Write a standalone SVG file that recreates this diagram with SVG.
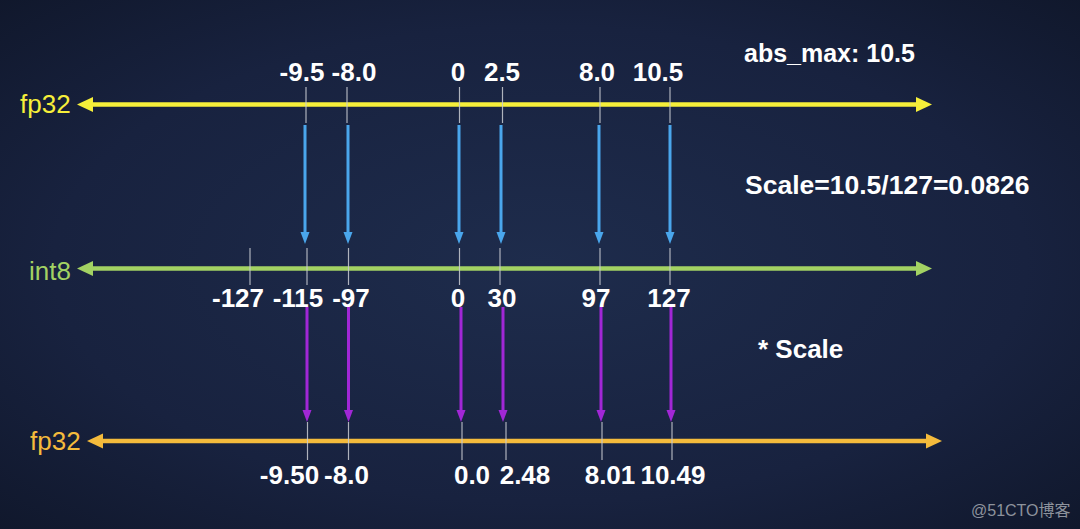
<svg xmlns="http://www.w3.org/2000/svg" width="1080" height="529" viewBox="0 0 1080 529">
<defs>
<radialGradient id="bg" cx="0.5" cy="0.5" r="0.75" fx="0.5" fy="0.5">
<stop offset="0" stop-color="#1e2c4c"/>
<stop offset="0.6" stop-color="#18223f"/>
<stop offset="1" stop-color="#0f1629"/>
</radialGradient>
<style>
.lbl{font-family:"Liberation Sans",Arial,sans-serif;font-size:26px}
.num{font-family:"Liberation Sans",Arial,sans-serif;font-size:26px;font-weight:bold;fill:#ffffff;text-anchor:middle}
.note{font-family:"Liberation Sans",Arial,sans-serif;font-weight:bold;fill:#ffffff}
.tick{stroke:#c9ccd2;stroke-width:1.2;opacity:0.85}
.blue{stroke:#4aa6ec;stroke-width:3}
.purple{stroke:#a127d6;stroke-width:3}
</style>
</defs>
<rect width="1080" height="529" fill="url(#bg)"/>

<g id="axis-fp32-top">
<line x1="88" y1="104.5" x2="920" y2="104.5" stroke="#f6ef3a" stroke-width="4.5"/>
<polygon points="77,104.5 93,97 93,112" fill="#f6ef3a"/>
<polygon points="932,104.5 916,97 916,112" fill="#f6ef3a"/>
<text class="lbl" x="20" y="113" fill="#f6ef3a">fp32</text>
</g>

<g id="axis-int8">
<line x1="88" y1="268.5" x2="920" y2="268.5" stroke="#a3d263" stroke-width="4.5"/>
<polygon points="77,268.5 93,261 93,276" fill="#a3d263"/>
<polygon points="932,268.5 916,261 916,276" fill="#a3d263"/>
<text class="lbl" x="29" y="280" fill="#a3d263">int8</text>
</g>

<g id="axis-fp32-bottom">
<line x1="98" y1="441" x2="930" y2="441" stroke="#f4bb3c" stroke-width="4.5"/>
<polygon points="87,441 103,433.5 103,448.5" fill="#f4bb3c"/>
<polygon points="942,441 926,433.5 926,448.5" fill="#f4bb3c"/>
<text class="lbl" x="30" y="450" fill="#f4bb3c">fp32</text>
</g>

<g id="ticks-top">
<line class="tick" x1="306" y1="87" x2="306" y2="123"/>
<line class="tick" x1="347" y1="87" x2="347" y2="123"/>
<line class="tick" x1="459.5" y1="87" x2="459.5" y2="123"/>
<line class="tick" x1="502.5" y1="87" x2="502.5" y2="123"/>
<line class="tick" x1="600" y1="87" x2="600" y2="123"/>
<line class="tick" x1="670" y1="87" x2="670" y2="123"/>
</g>

<g id="labels-top">
<text class="num" x="302" y="81">-9.5</text>
<text class="num" x="354" y="81">-8.0</text>
<text class="num" x="458" y="81">0</text>
<text class="num" x="502" y="81">2.5</text>
<text class="num" x="597" y="81">8.0</text>
<text class="num" x="658" y="81">10.5</text>
</g>

<g id="ticks-int8">
<line class="tick" x1="250" y1="248" x2="250" y2="285"/>
<line class="tick" x1="307" y1="248" x2="307" y2="285"/>
<line class="tick" x1="348.5" y1="248" x2="348.5" y2="285"/>
<line class="tick" x1="459.5" y1="248" x2="459.5" y2="285"/>
<line class="tick" x1="500" y1="248" x2="500" y2="285"/>
<line class="tick" x1="600" y1="248" x2="600" y2="285"/>
<line class="tick" x1="670" y1="248" x2="670" y2="285"/>
</g>

<g id="labels-int8">
<text class="num" x="238" y="307">-127</text>
<text class="num" x="298" y="307">-115</text>
<text class="num" x="351" y="307">-97</text>
<text class="num" x="458" y="307">0</text>
<text class="num" x="502" y="307">30</text>
<text class="num" x="596" y="307">97</text>
<text class="num" x="669" y="307">127</text>
</g>

<g id="ticks-bottom">
<line class="tick" x1="307.5" y1="422" x2="307.5" y2="460"/>
<line class="tick" x1="348.5" y1="422" x2="348.5" y2="460"/>
<line class="tick" x1="462" y1="422" x2="462" y2="460"/>
<line class="tick" x1="506" y1="422" x2="506" y2="460"/>
<line class="tick" x1="602" y1="422" x2="602" y2="460"/>
<line class="tick" x1="672" y1="422" x2="672" y2="460"/>
</g>

<g id="labels-bottom">
<text class="num" x="289.5" y="484">-9.50</text>
<text class="num" x="346.5" y="484">-8.0</text>
<text class="num" x="472" y="484">0.0</text>
<text class="num" x="525" y="484">2.48</text>
<text class="num" x="610" y="484">8.01</text>
<text class="num" x="673" y="484">10.49</text>
</g>

<g id="connectors">
<g id="quantize-arrows">
<line class="blue" x1="305" y1="125" x2="305" y2="233"/><polygon points="300.5,232 309.5,232 305,244" fill="#4aa6ec"/>
<line class="blue" x1="348" y1="125" x2="348" y2="233"/><polygon points="343.5,232 352.5,232 348,244" fill="#4aa6ec"/>
<line class="blue" x1="459" y1="125" x2="459" y2="233"/><polygon points="454.5,232 463.5,232 459,244" fill="#4aa6ec"/>
<line class="blue" x1="501" y1="125" x2="501" y2="233"/><polygon points="496.5,232 505.5,232 501,244" fill="#4aa6ec"/>
<line class="blue" x1="599" y1="125" x2="599" y2="233"/><polygon points="594.5,232 603.5,232 599,244" fill="#4aa6ec"/>
<line class="blue" x1="670" y1="125" x2="670" y2="233"/><polygon points="665.5,232 674.5,232 670,244" fill="#4aa6ec"/>
</g>
<g id="dequantize-arrows">
<line class="purple" x1="307" y1="307" x2="307" y2="411"/><polygon points="302.5,410 311.5,410 307,422" fill="#a127d6"/>
<line class="purple" x1="348.5" y1="307" x2="348.5" y2="411"/><polygon points="344,410 353,410 348.5,422" fill="#a127d6"/>
<line class="purple" x1="461" y1="307" x2="461" y2="411"/><polygon points="456.5,410 465.5,410 461,422" fill="#a127d6"/>
<line class="purple" x1="503" y1="307" x2="503" y2="411"/><polygon points="498.5,410 507.5,410 503,422" fill="#a127d6"/>
<line class="purple" x1="601" y1="307" x2="601" y2="411"/><polygon points="596.5,410 605.5,410 601,422" fill="#a127d6"/>
<line class="purple" x1="671" y1="307" x2="671" y2="411"/><polygon points="666.5,410 675.5,410 671,422" fill="#a127d6"/>
</g>
</g>

<g id="notes">
<text class="note" x="744" y="62" font-size="25">abs_max: 10.5</text>
<text class="note" x="745" y="194" font-size="26.5">Scale=10.5/127=0.0826</text>
<text class="note" x="758" y="358" font-size="26">* Scale</text>
</g>

<text x="971" y="516" font-family="'Liberation Sans','Noto Sans CJK SC',sans-serif" font-size="16" fill="#8d929c">@51CTO博客</text>
</svg>
